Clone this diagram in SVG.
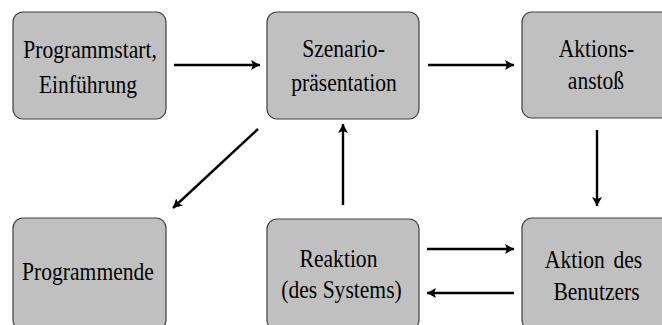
<svg xmlns="http://www.w3.org/2000/svg" width="662" height="325" viewBox="0 0 662 325">
<style>
.box{fill:#c0c0c0;stroke:#404040;stroke-width:1.2}
.t{font-family:'Liberation Serif','Times New Roman','DejaVu Serif',serif;font-size:26px;fill:#000;text-anchor:middle}
.c{stroke:#000;stroke-width:2.4;fill:none;marker-end:url(#ah)}
</style>
<defs>
<marker id="ah" markerUnits="userSpaceOnUse" viewBox="0 0 9 10" markerWidth="9" markerHeight="10" refX="9" refY="5" orient="auto">
<path d="M0,0 L9,5 L0,10 L2,5 z" fill="#000"/>
</marker>
</defs>
<rect width="662" height="325" fill="#fff"/>
<g id="n1"><rect class="box" x="13" y="12" width="153" height="107" rx="10"/>
<text class="t" transform="translate(90,58) scale(0.83,1)">Programmstart,</text>
<text class="t" transform="translate(88,93) scale(0.83,1)">Einführung</text></g>
<g id="n2"><rect class="box" x="267" y="12" width="152" height="107" rx="10"/>
<text class="t" transform="translate(343.5,57) scale(0.83,1)">Szenario-</text>
<text class="t" transform="translate(344,91) scale(0.83,1)">präsentation</text></g>
<g id="n3"><rect class="box" x="522" y="12" width="152" height="106" rx="10"/>
<text class="t" transform="translate(596.5,57) scale(0.83,1)">Aktions-</text>
<text class="t" transform="translate(596,89) scale(0.83,1)">anstoß</text></g>
<g id="n4"><rect class="box" x="13" y="218" width="153" height="112" rx="10"/>
<text class="t" transform="translate(88,280) scale(0.83,1)">Programmende</text></g>
<g id="n5"><rect class="box" x="267" y="219" width="152" height="111" rx="10"/>
<text class="t" transform="translate(338.5,267) scale(0.83,1)">Reaktion</text>
<text class="t" transform="translate(341.5,298) scale(0.83,1)">(des Systems)</text></g>
<g id="n6"><rect class="box" x="522" y="218" width="152" height="112" rx="10"/>
<text class="t" transform="translate(593.5,268) scale(0.83,1)" word-spacing="4">Aktion des</text>
<text class="t" transform="translate(596.5,300) scale(0.83,1)">Benutzers</text></g>
<g id="connectors">
<line class="c" x1="174" y1="65" x2="260" y2="65"/>
<line class="c" x1="428" y1="65" x2="514" y2="65"/>
<line class="c" x1="597" y1="130" x2="597" y2="206"/>
<line class="c" x1="258" y1="129" x2="173" y2="208"/>
<line class="c" x1="343" y1="205" x2="343" y2="124"/>
<line class="c" x1="427" y1="249" x2="514" y2="249"/>
<line class="c" x1="514" y1="293" x2="427" y2="293"/>
</g>
</svg>
